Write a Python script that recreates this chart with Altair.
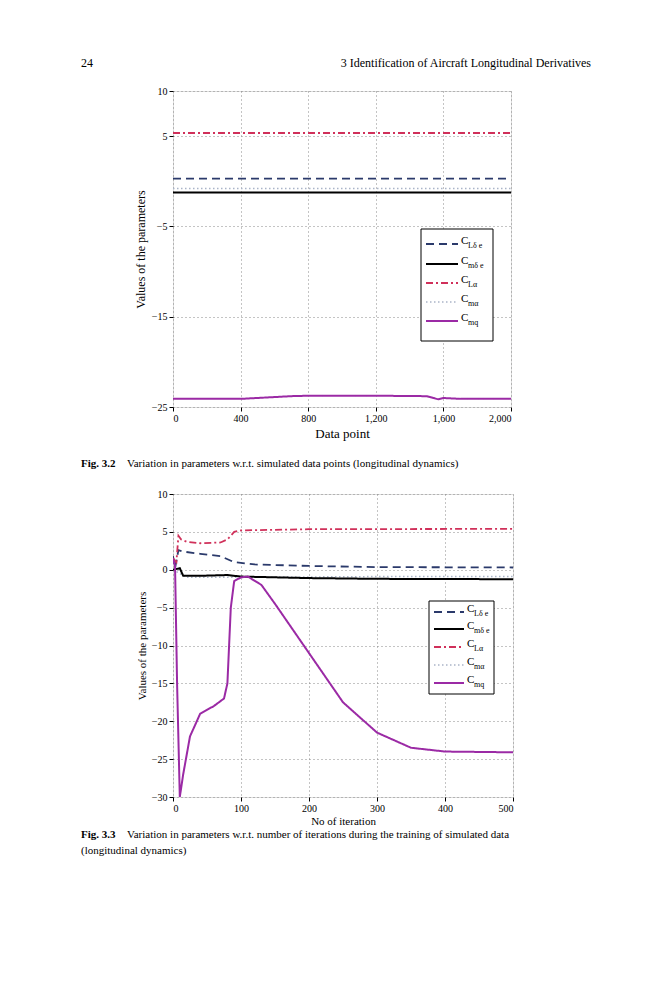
import altair as alt
import pandas as pd

FONT = "Liberation Serif"

# ---- Chart 1 (vs data point) ----
c1_x = [0, 2000]
c1_CLde = [0.3, 0.3]
c1_Cmde = [-1.25, -1.25]
c1_CLa = [5.35, 5.35]
c1_Cma = [-0.8, -0.8]
c1_Cmq_x = [0, 400, 500, 600, 700, 800, 1200, 1500, 1540, 1570, 1600, 1700, 2000]
c1_Cmq = [-24.1, -24.1, -24.0, -23.9, -23.8, -23.75, -23.75, -23.8, -24.0, -24.15, -24.0, -24.1, -24.1]

# ---- Chart 2 (vs iteration) ----
c2_Cmq_x = [0, 3, 6, 10, 15, 25, 40, 60, 75, 80, 85, 90, 100, 110, 130, 150, 200, 250, 300, 350, 400, 500]
c2_Cmq = [1.5, 0.5, -15, -30, -27, -22, -19, -18, -17, -15, -5, -1.5, -1.0, -0.9, -2.0, -4.5, -11, -17.5, -21.5, -23.5, -24.0, -24.1]
c2_CLa_x = [0, 5, 8, 12, 20, 40, 70, 80, 90, 100, 200, 500]
c2_CLa = [1.5, 1.0, 4.5, 4.0, 3.7, 3.5, 3.6, 4.0, 5.0, 5.2, 5.35, 5.4]
c2_CLde_x = [0, 3, 8, 15, 40, 70, 90, 120, 200, 300, 500]
c2_CLde = [1.8, 0.2, 2.6, 2.4, 2.1, 1.8, 1.0, 0.7, 0.5, 0.35, 0.3]
c2_Cmde_x = [0, 10, 15, 40, 80, 100, 200, 300, 500]
c2_Cmde = [0.0, 0.2, -0.8, -0.8, -0.7, -0.9, -1.1, -1.2, -1.25]
c2_Cma_x = [0, 10, 20, 100, 300, 500]
c2_Cma = [0.0, -0.5, -1.0, -1.0, -0.9, -0.9]

STY = {
    "CLde": dict(color="#2b3a6b", dash=[8, 5], w=1.8),
    "Cmde": dict(color="#000000", dash=[1, 0], w=2.0),
    "CLa": dict(color="#d0305a", dash=[7, 3, 2, 3], w=1.8),
    "Cma": dict(color="#aab4c8", dash=[1.5, 2.5], w=1.5),
    "Cmq": dict(color="#9b2aa5", dash=[1, 0], w=2.0),
}
LEG = [("CLde", "Lδ e"), ("Cmde", "mδ e"), ("CLa", "Lα"), ("Cma", "mα"), ("Cmq", "mq")]

one = pd.DataFrame({"a": [0]})


def line(xs, ys, key, xscale, yscale, xaxis, yaxis):
    s = STY[key]
    df = pd.DataFrame({"x": xs, "y": ys})
    return alt.Chart(df).mark_line(color=s["color"], strokeDash=s["dash"], strokeWidth=s["w"], clip=True).encode(
        x=alt.X("x:Q", scale=xscale, axis=xaxis),
        y=alt.Y("y:Q", scale=yscale, axis=yaxis),
    )


def legend(x0, x1, y0, y1, rows, lx0, lx1, tx):
    layers = [alt.Chart(one).mark_rect(fill="white", stroke="black", strokeWidth=1).encode(
        x=alt.value(x0), x2=alt.value(x1), y=alt.value(y0), y2=alt.value(y1))]
    for (key, sub), ry in zip(LEG, rows):
        s = STY[key]
        layers.append(alt.Chart(one).mark_rule(color=s["color"], strokeDash=s["dash"], strokeWidth=s["w"]).encode(
            x=alt.value(lx0), x2=alt.value(lx1), y=alt.value(ry)))
        layers.append(alt.Chart(one).mark_text(text="C", font=FONT, fontSize=11, align="left", baseline="middle").encode(
            x=alt.value(tx), y=alt.value(ry - 3)))
        layers.append(alt.Chart(one).mark_text(text=sub, font=FONT, fontSize=8, align="left", baseline="middle").encode(
            x=alt.value(tx + 7), y=alt.value(ry + 2)))
    return layers


def txt(s, x, y, size=11, bold=False, align="left"):
    return alt.Chart(one).mark_text(text=s, font=FONT, fontSize=size, fontWeight="bold" if bold else "normal",
                                    align=align, baseline="middle").encode(x=alt.value(x), y=alt.value(y))


grid = dict(grid=True, gridDash=[1, 3], gridColor="#888", tickColor="black", domain=False,
            labelFont=FONT, titleFont=FONT, labelColor="black", titleColor="black",
            titleFontWeight="normal", tickSize=4)

# chart 1
xs1 = alt.Scale(domain=[0, 2000], nice=False)
ys1 = alt.Scale(domain=[-25, 10], nice=False)
xa1 = alt.Axis(values=[0, 400, 800, 1200, 1600, 2000], title="Data point", titleFontSize=13, labelFontSize=10, **grid)
ya1 = alt.Axis(values=[10, 5, -5, -15, -25], title="Values of the parameters", titleFontSize=12, labelFontSize=10, **grid)
l1 = [
    line(c1_x, c1_Cma, "Cma", xs1, ys1, xa1, ya1),
    line(c1_x, c1_CLde, "CLde", xs1, ys1, xa1, ya1),
    line(c1_x, c1_Cmde, "Cmde", xs1, ys1, xa1, ya1),
    line(c1_x, c1_CLa, "CLa", xs1, ys1, xa1, ya1),
    line(c1_Cmq_x, c1_Cmq, "Cmq", xs1, ys1, xa1, ya1),
] + legend(248, 320, 138, 250, [153, 173, 192, 211, 230], 253, 285, 288) + [
    txt("24", -92, -28, 12),
    txt("3   Identification of Aircraft Longitudinal Derivatives", 418, -28, 12, align="right"),
    txt("Fig. 3.2", -92, 373, 11, bold=True),
    txt("Variation in parameters w.r.t. simulated data points (longitudinal dynamics)", -46, 373, 11),
]
ch1 = alt.layer(*l1).properties(width=338, height=316)

# chart 2
xs2 = alt.Scale(domain=[0, 500], nice=False)
ys2 = alt.Scale(domain=[-30, 10], nice=False)
xa2 = alt.Axis(values=[0, 100, 200, 300, 400, 500], title="No of iteration", titleFontSize=11, labelFontSize=10,
               titlePadding=2, **grid)
ya2 = alt.Axis(values=list(range(-30, 11, 5)), title="Values of the parameters", titleFontSize=11, labelFontSize=10, **grid)
l2 = [
    line(c2_Cma_x, c2_Cma, "Cma", xs2, ys2, xa2, ya2),
    line(c2_CLde_x, c2_CLde, "CLde", xs2, ys2, xa2, ya2),
    line(c2_Cmde_x, c2_Cmde, "Cmde", xs2, ys2, xa2, ya2),
    line(c2_CLa_x, c2_CLa, "CLa", xs2, ys2, xa2, ya2),
    line(c2_Cmq_x, c2_Cmq, "Cmq", xs2, ys2, xa2, ya2),
] + legend(256, 321, 107, 200, [118, 135, 153, 171, 189], 261, 291, 294) + [
    txt("Fig. 3.3", -92, 341, 11, bold=True),
    txt("Variation in parameters w.r.t. number of iterations during the training of simulated data", -46, 341, 11),
    txt("(longitudinal dynamics)", -92, 357, 11),
]
ch2 = alt.layer(*l2).properties(width=340, height=303)

chart = alt.vconcat(ch1, ch2, spacing=87, bounds="flush").properties(
    padding={"left": 72, "top": 48, "right": 5, "bottom": 5},
).configure_view(stroke="black", strokeWidth=1).configure(background="white")

chart.save("out.html", embed_options={"renderer": "svg", "actions": False})
